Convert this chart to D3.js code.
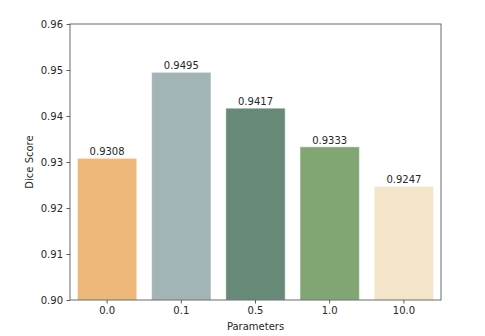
<!DOCTYPE html>
<html>
<head>
<meta charset="utf-8">
<script src="https://cdn.jsdelivr.net/npm/d3@7"></script>
<style>
    body { margin: 0; background: #fff; }
    text { font-family: "DejaVu Sans", sans-serif; fill: #262626; }
</style>
</head>
<body>
<div id="chart"></div>
<script>
const params = ['0.0', '0.1', '0.5', '1.0', '10.0'];
const scores = [0.9308, 0.9495, 0.9417, 0.9333, 0.9247];
const barColors = ['#edb87a', '#a2b4b6', '#678a78', '#82a574', '#f3e5ca'];
const yTicks = [0.90, 0.91, 0.92, 0.93, 0.94, 0.95, 0.96];

const width = 485;
const height = 336;
const margin = { top: 24, right: 44, bottom: 36, left: 70 };

const svg = d3.select('#chart')
    .append('svg')
    .attr('width', width)
    .attr('height', height);

const x = d3.scaleBand()
    .domain(params)
    .range([margin.left, width - margin.right])
    .paddingInner(0.2)
    .paddingOuter(0.1);

const y = d3.scaleLinear()
    .domain([0.90, 0.96])
    .range([height - margin.bottom, margin.top]);

// bars
svg.append('g')
    .selectAll('rect')
    .data(scores)
    .join('rect')
    .attr('x', (d, i) => x(params[i]))
    .attr('y', d => y(d))
    .attr('width', x.bandwidth())
    .attr('height', d => y(0.90) - y(d))
    .attr('fill', (d, i) => barColors[i])
    .attr('stroke', '#ffffff')
    .attr('stroke-opacity', 0.5)
    .attr('stroke-width', 1);

// value labels
svg.append('g')
    .selectAll('text')
    .data(scores)
    .join('text')
    .attr('x', (d, i) => x(params[i]) + x.bandwidth() / 2)
    .attr('y', d => y(d) - 3)
    .attr('text-anchor', 'middle')
    .attr('font-size', 10)
    .text(d => d.toFixed(4));

// axes
const xAxis = svg.append('g')
    .attr('transform', `translate(0,${height - margin.bottom})`)
    .call(d3.axisBottom(x).tickSizeOuter(0).tickSize(3.5).tickPadding(3.5));

const yAxis = svg.append('g')
    .attr('transform', `translate(${margin.left},0)`)
    .call(d3.axisLeft(y).tickValues(yTicks).tickFormat(d3.format('.2f')).tickSizeOuter(0).tickSize(3.5).tickPadding(3.5));

[xAxis, yAxis].forEach(a => {
    a.selectAll('text').attr('font-size', 10).style('font-family', '"DejaVu Sans", sans-serif').attr('fill', '#262626');
    a.selectAll('line').attr('stroke', '#333').attr('stroke-width', 0.8);
    a.select('.domain').remove();
});

// frame
svg.append('rect')
    .attr('x', margin.left)
    .attr('y', margin.top)
    .attr('width', width - margin.left - margin.right)
    .attr('height', height - margin.top - margin.bottom)
    .attr('fill', 'none')
    .attr('stroke', '#444')
    .attr('stroke-width', 0.8);

// axis titles
svg.append('text')
    .attr('x', margin.left + (width - margin.left - margin.right) / 2)
    .attr('y', height - 6)
    .attr('text-anchor', 'middle')
    .attr('font-size', 10)
    .text('Parameters');

svg.append('text')
    .attr('transform', `translate(33,${margin.top + (height - margin.top - margin.bottom) / 2}) rotate(-90)`)
    .attr('text-anchor', 'middle')
    .attr('font-size', 10)
    .text('Dice Score');
</script>
</body>
</html>
